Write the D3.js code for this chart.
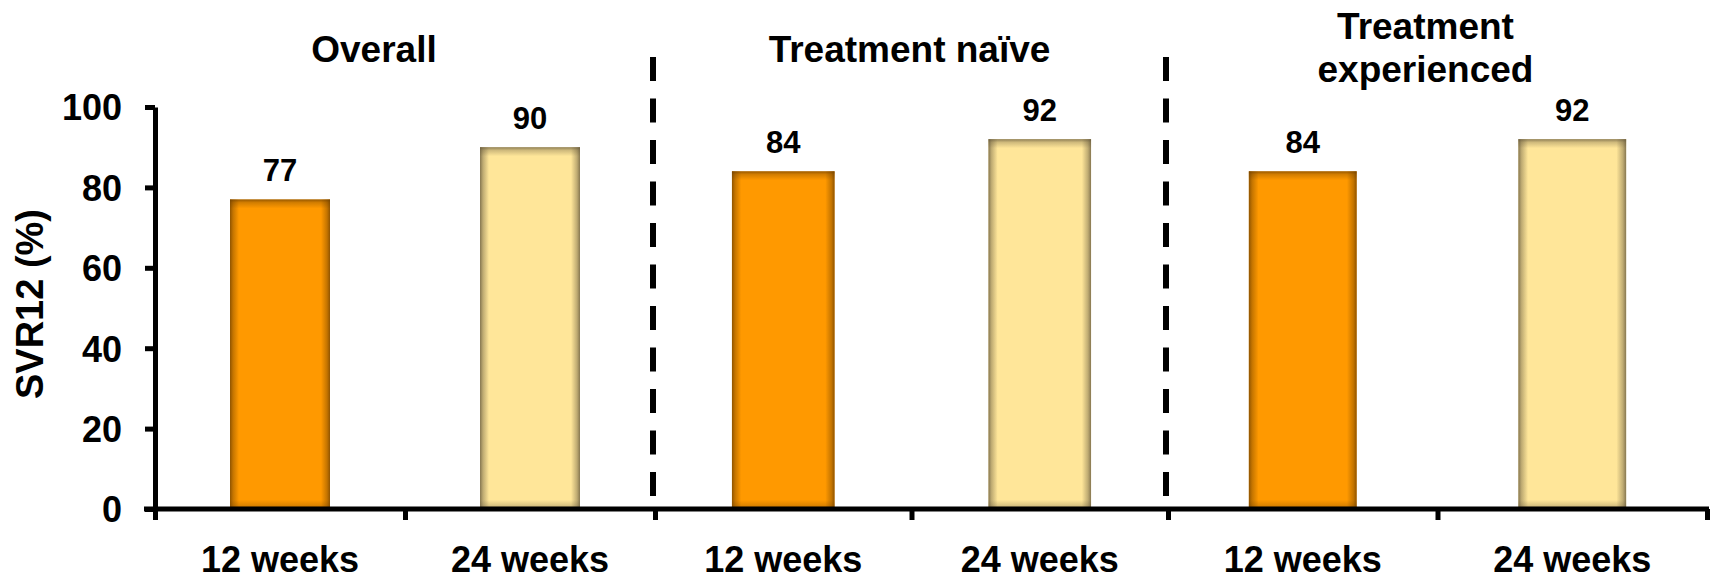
<!DOCTYPE html>
<html>
<head>
<meta charset="utf-8">
<script src="https://cdn.jsdelivr.net/npm/d3@7"></script>
<style>
  html, body { margin: 0; padding: 0; background: #fff; }
  svg { display: block; }
  text { font-family: Arial, "Liberation Sans", sans-serif; font-weight: bold; fill: #000; }
</style>
</head>
<body>
<svg id="chart" width="1719" height="580"></svg>
<script>
// SVR12 rates by patient group and treatment duration
const groupTitles = [["Overall"], ["Treatment naïve"], ["Treatment", "experienced"]];
const durations = ["12 weeks", "24 weeks"];
const week12 = [77, 84, 84];
const week24 = [90, 92, 92];
const yTicks = [0, 20, 40, 60, 80, 100];
const yTitle = "SVR12 (%)";

const svg = d3.select("#chart");

// Each group spans two slots; the three panels are laid out with their own widths.
const groupEdges = [155, 655, 1168, 1707];
const x = d3.scaleLinear().domain([0, 2, 4, 6]).range(groupEdges);
const y = d3.scaleLinear().domain([0, 100]).range([509, 107]);
const titleShift = [-31, -2, -12];

const colors = ["#FF9900", "#FFE699"];
const edgeColors = ["#6b3d00", "#5e5238"];
const edgeBand = 9;

// Edge shading gradients (sides use the bar's box, top/bottom use fixed bands)
const defs = svg.append("defs");
edgeColors.forEach((c, i) => {
  const h = defs.append("linearGradient").attr("id", "side" + i)
    .attr("x1", 0).attr("x2", 1).attr("y1", 0).attr("y2", 0);
  [[0, 0.75], [0.03, 0.4], [0.09, 0], [0.91, 0], [0.97, 0.4], [1, 0.75]].forEach(([o, a]) =>
    h.append("stop").attr("offset", o).attr("stop-color", c).attr("stop-opacity", a));
  const top = defs.append("linearGradient").attr("id", "top" + i)
    .attr("x1", 0).attr("x2", 0).attr("y1", 0).attr("y2", 1);
  [[0, 0.7], [0.35, 0.3], [1, 0]].forEach(([o, a]) =>
    top.append("stop").attr("offset", o).attr("stop-color", c).attr("stop-opacity", a));
  const bot = defs.append("linearGradient").attr("id", "bot" + i)
    .attr("x1", 0).attr("x2", 0).attr("y1", 1).attr("y2", 0);
  [[0, 0.6], [0.35, 0.25], [1, 0]].forEach(([o, a]) =>
    bot.append("stop").attr("offset", o).attr("stop-color", c).attr("stop-opacity", a));
});

const bars = [];
groupTitles.forEach((t, g) => {
  [week12[g], week24[g]].forEach((v, d) => {
    bars.push({ slot: g * 2 + d, value: v, dur: d });
  });
});

const barX = d => { const a = x(d.slot), b = x(d.slot + 1); return (a + b) / 2 - 0.2 * (b - a); };
const barW = d => 0.4 * (x(d.slot + 1) - x(d.slot));

// Dashed separators between groups
[2, 4].forEach(s => {
  svg.append("line")
    .attr("x1", x(s) - 2).attr("x2", x(s) - 2)
    .attr("y1", 57).attr("y2", y(0) - 4)
    .attr("stroke", "#000").attr("stroke-width", 6)
    .attr("stroke-dasharray", "24 17.5");
});

// Bars with shaded edges
const barG = svg.append("g").selectAll("g").data(bars).join("g");
barG.append("rect")
  .attr("x", barX).attr("width", barW)
  .attr("y", d => y(d.value)).attr("height", d => y(0) - y(d.value))
  .attr("fill", d => colors[d.dur]);
barG.append("rect")
  .attr("x", barX).attr("width", barW)
  .attr("y", d => y(d.value)).attr("height", d => y(0) - y(d.value))
  .attr("fill", d => `url(#side${d.dur})`);
barG.append("rect")
  .attr("x", barX).attr("width", barW)
  .attr("y", d => y(d.value)).attr("height", edgeBand)
  .attr("fill", d => `url(#top${d.dur})`);
barG.append("rect")
  .attr("x", barX).attr("width", barW)
  .attr("y", y(0) - edgeBand).attr("height", edgeBand)
  .attr("fill", d => `url(#bot${d.dur})`);

// Value labels
svg.append("g").selectAll("text").data(bars).join("text")
  .attr("x", d => (x(d.slot) + x(d.slot + 1)) / 2)
  .attr("y", d => y(d.value) - 18)
  .attr("text-anchor", "middle")
  .style("font-size", "31px")
  .text(d => d.value);

// Y axis
const yAxis = svg.append("g")
  .attr("transform", `translate(${groupEdges[0]},0)`)
  .call(d3.axisLeft(y).tickValues(yTicks).tickSize(10).tickSizeOuter(0).tickPadding(23));
yAxis.select(".domain").attr("stroke-width", 5);
yAxis.selectAll(".tick line").attr("stroke-width", 5);
yAxis.selectAll(".tick text")
  .attr("dy", "0.36em")
  .style("font-size", "36px")
  .style("font-family", "Arial, 'Liberation Sans', sans-serif")
  .style("font-weight", "bold");

// X axis with boundary ticks between slots
const xAxis = svg.append("g")
  .attr("transform", `translate(0,${y(0)})`)
  .call(d3.axisBottom(x).tickValues(d3.range(0, 7)).tickFormat("").tickSize(11).tickSizeOuter(0));
xAxis.select(".domain").remove();
xAxis.selectAll(".tick line").attr("stroke-width", 5);
svg.append("line")
  .attr("x1", groupEdges[0] - 11).attr("x2", groupEdges[3] + 2)
  .attr("y1", y(0)).attr("y2", y(0))
  .attr("stroke", "#000").attr("stroke-width", 5);

// Duration labels under each slot
svg.append("g").selectAll("text").data(bars).join("text")
  .attr("x", d => (x(d.slot) + x(d.slot + 1)) / 2)
  .attr("y", 572)
  .attr("text-anchor", "middle")
  .style("font-size", "36px")
  .text(d => durations[d.dur]);

// Group titles
groupTitles.forEach((lines, g) => {
  const cx = (x(g * 2) + x(g * 2 + 2)) / 2 + titleShift[g];
  const t = svg.append("text")
    .attr("text-anchor", "middle")
    .style("font-size", "37px");
  const top = lines.length === 1 ? 62 : 39;
  lines.forEach((ln, i) => {
    t.append("tspan").attr("x", cx).attr("y", top + i * 43).text(ln);
  });
});

// Y axis title
svg.append("text")
  .attr("transform", "translate(43,304) rotate(-90)")
  .attr("text-anchor", "middle")
  .style("font-size", "38px")
  .text(yTitle);
</script>
</body>
</html>
